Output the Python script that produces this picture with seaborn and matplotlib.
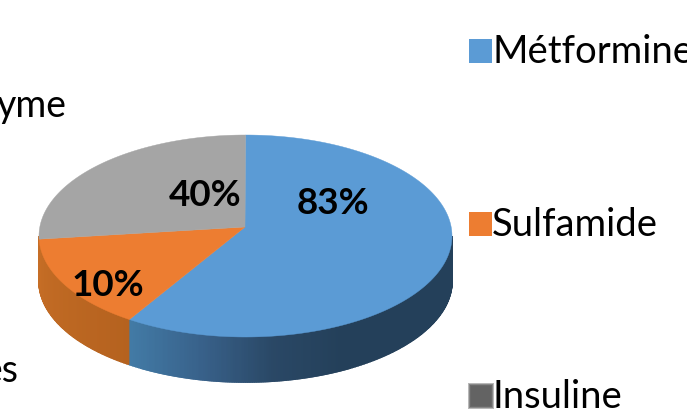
# 3D style pie chart of treatments, drawn in pixel coordinates
import numpy as np
import matplotlib.pyplot as plt
from matplotlib.patches import Rectangle
import seaborn as sns

# Data
categories = ['Métformine', 'Sulfamide', 'Insuline']
slice_shares = [59.5, 15.0, 25.5]   # size of the slices as drawn
slice_labels = ['83%', '10%', '40%']  # the printed labels do not follow the sizes
cut_labels = ['yme', 'es']          # legend entries cut off by the left edge

sns.set_theme(style='white')
plt.rcParams['font.family'] = ['Lato', 'DejaVu Sans']
colors = sns.color_palette(['#5b9bd5', '#ed7d31', '#a5a5a5'])

# Pie geometry (pixels)
cx, cy, rx, ry = 245.5, 236, 206.5, 101
tip_x, tip_y = 245, 227
depth = 45

fig = plt.figure(figsize=(6.87, 4.20), dpi=100)
ax = fig.add_axes([0, 0, 1, 1])
ax.set_xlim(0, 687)
ax.set_ylim(420, 0)
ax.axis('off')

def rim(t):
    return cx + rx * np.sin(t), cy - ry * np.cos(t)

edges = np.radians(np.cumsum([0] + slice_shares) * 3.6)

# Side wall: short strips along the front of the rim, shaded by position
blue_side = sns.blend_palette(['#427aa5', '#38618a', '#2a4866', '#24405a'], 101)
orange_side = sns.blend_palette(['#c66e26', '#b5621f'], 101)
steps = np.radians(np.arange(90, 270.5, 0.5))
for t0, t1 in zip(steps[:-1], steps[1:]):
    x0, y0 = rim(t0)
    x1, y1 = rim(t1)
    if t0 < edges[1]:
        frac = np.clip((x1 - rim(edges[1])[0]) / 210, 0, 1)
        c = blue_side[int(frac * 100)]
    else:
        frac = (t0 - edges[1]) / (np.pi * 1.5 - edges[1])
        c = orange_side[int((1 - frac) * 100)]
    ax.fill([x0, x1, x1, x0], [y0, y1, y1 + depth, y0 + depth], color=c, lw=1.2)

# Top face: fan of each slice from the tip
for i, c in enumerate(colors):
    t = np.linspace(edges[i], edges[i + 1], 200)
    xs, ys = rim(t)
    ax.fill(np.r_[tip_x, xs], np.r_[tip_y, ys], color=c, lw=0.3)

label_pos = [(333, 204), (108, 286), (205, 196)]
for lab, (x, y) in zip(slice_labels, label_pos):
    ax.text(x, y, lab, fontsize=26.5, fontweight='bold', color='black', ha='center', va='center')

# Legend
legend_y = [51, 224, 396]
baselines = [63, 236, 408]
for name, c, y, b in zip(categories[:2], colors[:2], legend_y[:2], baselines[:2]):
    ax.add_patch(Rectangle((469, y - 12), 23, 24, color=c, lw=0))
    ax.text(492, b, name, fontsize=27.5, color='black', va='baseline')

# Insuline marker is a blurred dark grey square
grey_steps = sns.blend_palette(['#b8b8b8', '#6e6e6e', '#636363'], 4)
for k, c in enumerate(grey_steps):
    ax.add_patch(Rectangle((468 + k, legend_y[2] - 13 + k), 26 - 2 * k, 26 - 2 * k, color=c, lw=0))
ax.text(492, baselines[2], categories[2], fontsize=27.5, color='black', va='baseline')

ax.text(67, 117, cut_labels[0], fontsize=27, color='black', ha='right', va='baseline')
ax.text(18, 382, cut_labels[1], fontsize=27, color='black', ha='right', va='baseline')

fig.savefig('out.png', dpi=100)
